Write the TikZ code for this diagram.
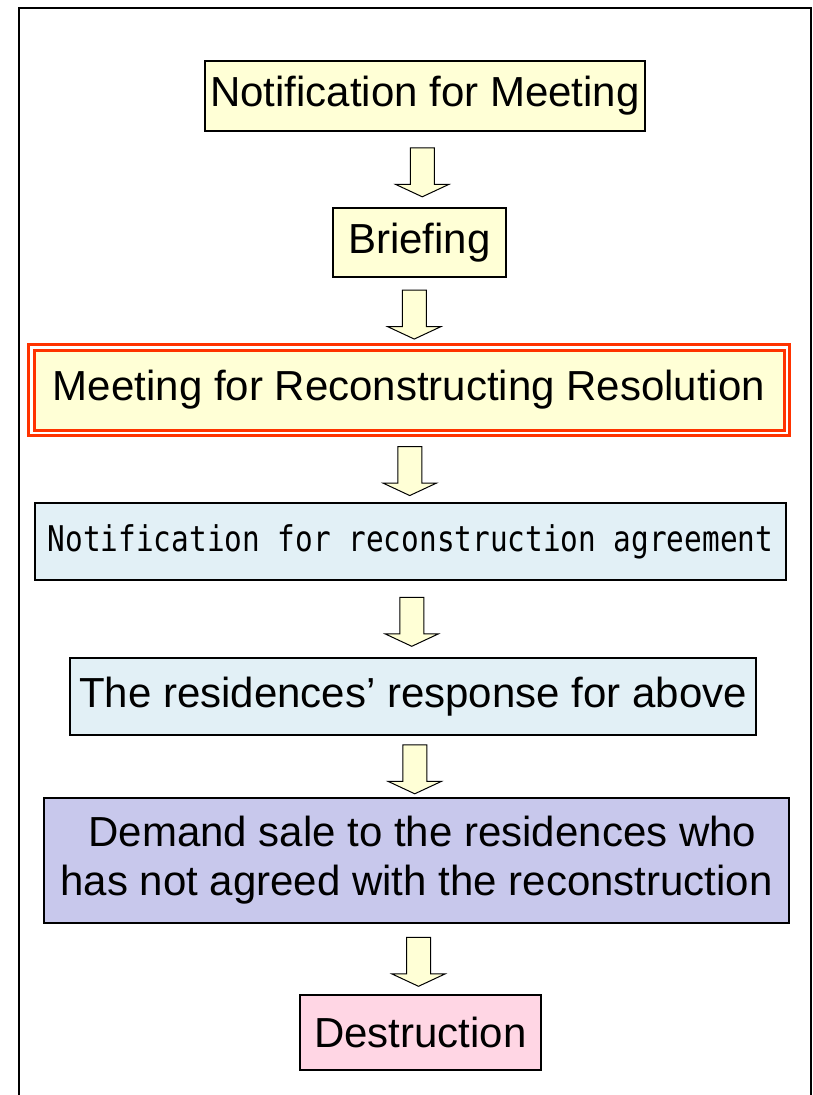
\documentclass[tikz,border=0pt]{standalone}
\usepackage{fontspec}
\setmainfont{Liberation Sans}
\newfontfamily\gothfont[FakeStretch=0.83]{DejaVu Sans Mono}
\usepackage{tikz}
\usetikzlibrary{shapes.arrows,calc}
\definecolor{paleyellow}{RGB}{255,255,214}
\definecolor{paleblue}{RGB}{226,240,246}
\definecolor{lavender}{RGB}{200,200,236}
\definecolor{palepink}{RGB}{255,214,228}
\definecolor{redorange}{RGB}{255,51,0}

\begin{document}
\begin{tikzpicture}[x=1pt,y=-1pt,
  stepbox/.style={draw=black,line width=1.5pt,inner sep=0pt,align=center,
    font=\fontsize{42}{49}\selectfont},
  downarrow/.style={single arrow,draw=black,line width=1pt,fill=paleyellow,
    inner sep=11.5pt,minimum height=49pt,single arrow head extend=14.5pt,
    single arrow tip angle=130,shape border rotate=270}]
\useasboundingbox (0,0) rectangle (813,1095);
% frame:
\path[draw=black,line width=2pt] (19,1100) -- (19,8) -- (811,8) -- (811,1100);
% steps:
\node[stepbox,fill=paleyellow,minimum width=440pt,minimum height=70pt] (notice) at (425,96)
  {Notification for Meeting};
\node[stepbox,fill=paleyellow,minimum width=173pt,minimum height=69pt] (briefing) at (419.5,242.5)
  {Briefing};
\node[stepbox,fill=paleyellow,draw=redorange,line width=3pt,double=white,double distance=2.5pt,
  minimum width=755.5pt,minimum height=85.5pt] (meeting) at (409,390)
  {Meeting for Reconstructing Resolution};
\node[stepbox,fill=paleblue,minimum width=751pt,minimum height=77pt] (agreement) at (410.5,541.5)
  {\gothfont\fontsize{35.4}{42}\selectfont Notification for reconstruction agreement};
\node[stepbox,fill=paleblue,minimum width=686pt,minimum height=77pt] (response) at (413,696.5)
  {The residences’ response for above};
\node[stepbox,fill=lavender,minimum width=745pt,minimum height=125pt] (demand) at (416.5,860.5)
  {\ Demand sale to the residences who\\has not agreed with the reconstruction};
\node[stepbox,fill=palepink,minimum width=241pt,minimum height=75pt] (destruction) at (420.5,1032.5)
  {Destruction};
% arrows between steps:
\node[downarrow] (a1) at ($(notice.south)!0.5!(briefing.north)$) {};
\node[downarrow] (a2) at ($(briefing.south)!0.5!(meeting.north)$) {};
\node[downarrow] (a3) at ($(meeting.south)!0.5!(agreement.north)$) {};
\node[downarrow] (a4) at ($(agreement.south)!0.5!(response.north)$) {};
\node[downarrow] (a5) at ($(response.south)!0.5!(demand.north)$) {};
\node[downarrow] (a6) at ($(demand.south)!0.5!(destruction.north)$) {};
\end{tikzpicture}
\end{document}
